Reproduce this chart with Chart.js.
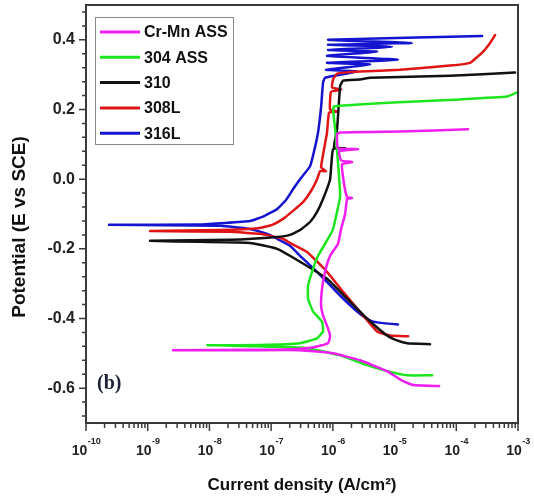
<!DOCTYPE html>
<html>
<head>
<meta charset="utf-8">
<script src="https://cdn.jsdelivr.net/npm/chart.js@4.4.0/dist/chart.umd.min.js"></script>
<style>
  body { margin: 0; background: #fff; }
  canvas { display: block; }
</style>
</head>
<body>
<canvas id="grafico" width="534" height="498"></canvas>
<script>
// series names and colours
const nomi = ["Cr-Mn ASS", "304 ASS", "310", "308L", "316L"];
const colori = ["#f01ef0", "#1ee61e", "#111111", "#e01414", "#1414d0"];

// current density (A/cm2) and potential (V vs SCE)
const crmnI = [5.26e-5, 2.0e-5, 1.37e-5, 7.55e-6, 2.76e-6, 1.007e-6, 2.94e-7, 4.55e-8, 2.57e-9,
  4.55e-8, 1.56e-7, 4.78e-7, 8.36e-7, 9.02e-7, 8.36e-7, 6.93e-7, 6.44e-7, 6.68e-7, 7.48e-7, 9.02e-7,
  1.21e-6, 1.36e-6, 1.58e-6, 1.70e-6, 2.05e-6, 1.70e-6, 1.52e-6, 1.41e-6, 2.05e-6, 1.36e-6, 1.26e-6,
  2.56e-6, 1.21e-6, 1.17e-6, 1.31e-6, 1.23e-5, 1.55e-4];
const crmnE = [-0.594, -0.591, -0.580, -0.551, -0.520, -0.500, -0.491, -0.491, -0.491,
  -0.490, -0.489, -0.483, -0.471, -0.451, -0.429, -0.391, -0.363, -0.314, -0.266, -0.220,
  -0.186, -0.143, -0.100, -0.057, -0.054, -0.051, -0.014, 0.043, 0.049, 0.054, 0.080,
  0.086, 0.089, 0.129, 0.134, 0.137, 0.143];

const ss304I = [4.06e-5, 1.6e-5, 7.55e-6, 3.58e-6, 1.31e-6, 5.55e-7, 2.94e-7, 6.6e-8, 9.14e-9,
  6.6e-8, 2.94e-7, 5.55e-7, 6.93e-7, 6.68e-7, 4.78e-7, 3.96e-7, 3.96e-7, 4.6e-7, 5.75e-7, 8.36e-7,
  1.007e-6, 1.31e-6, 1.21e-6, 1.09e-6, 1.007e-6, 1.04e-6, 1.31e-6, 9.46e-6, 1.15e-4, 6.65e-4, 9.66e-4];
const ss304E = [-0.563, -0.563, -0.551, -0.534, -0.506, -0.491, -0.483, -0.480, -0.477,
  -0.476, -0.471, -0.457, -0.437, -0.409, -0.380, -0.343, -0.306, -0.266, -0.220, -0.171,
  -0.143, -0.049, 0.049, 0.143, 0.200, 0.209, 0.211, 0.220, 0.229, 0.237, 0.249];

const ss310I = [3.76e-5, 1.6e-5, 1.1e-5, 7.55e-6, 3.58e-6, 1.7e-6, 8.05e-7, 2.94e-7, 1.25e-7, 4.55e-8, 7.05e-9, 1.09e-9,
  2.16e-8, 1.25e-7, 2.02e-7, 2.94e-7, 4.27e-7, 5.55e-7, 6.93e-7, 9.02e-7, 1.007e-6, 1.58e-6, 1.045e-6, 1.17e-6,
  1.31e-6, 1.46e-6, 2.76e-6, 4.01e-6, 7.93e-5, 8.97e-4];
const ss310E = [-0.474, -0.471, -0.463, -0.449, -0.400, -0.343, -0.286, -0.237, -0.200, -0.183, -0.180, -0.177,
  -0.174, -0.166, -0.160, -0.146, -0.123, -0.094, -0.057, 0.000, 0.086, 0.089, 0.091, 0.143,
  0.266, 0.283, 0.286, 0.291, 0.297, 0.306];

const ss308I = [1.66e-5, 8.45e-6, 5.2e-6, 3.08e-6, 1.46e-6, 8.05e-7, 3.82e-7, 2.02e-7, 1.56e-7, 6.6e-8, 2.16e-8, 1.09e-9,
  1.49e-8, 6.6e-8, 1.04e-7, 1.56e-7, 2.26e-7, 3.29e-7, 4.43e-7, 5.55e-7, 6.21e-7, 7.76e-7, 6.44e-7, 8.05e-7,
  8.68e-7, 1.21e-6, 9.02e-7, 9.35e-7, 1.36e-6, 9.7e-7, 1.007e-6, 1.17e-6, 2.76e-6, 1.23e-5, 7.93e-5, 1.67e-4,
  2.62e-4, 3.53e-4, 4.26e-4];
const ss308E = [-0.451, -0.449, -0.437, -0.391, -0.323, -0.266, -0.209, -0.183, -0.171, -0.157, -0.151, -0.149,
  -0.146, -0.140, -0.131, -0.114, -0.091, -0.066, -0.034, 0.000, 0.023, 0.023, 0.034, 0.134,
  0.191, 0.194, 0.200, 0.251, 0.257, 0.263, 0.286, 0.303, 0.309, 0.314, 0.326, 0.334,
  0.363, 0.391, 0.414];

const ss316I = [1.14e-5, 7.01e-6, 4.49e-6, 3.33e-6, 2.47e-6, 1.31e-6, 5.55e-7, 2.94e-7, 2.02e-7, 1.25e-7, 8.6e-8, 4.55e-8,
  1.49e-8, 2.36e-10, 7.05e-9, 4.55e-8, 7.68e-8, 1.25e-7, 1.74e-7, 2.26e-7, 2.94e-7, 4.27e-7, 4.96e-7, 5.75e-7,
  6.44e-7, 6.93e-7, 7.48e-7, 2.47e-6, 7.76e-7, 4.01e-6, 8.05e-7, 1.14e-5, 8.05e-7, 5.2e-6, 8.36e-7, 9.1e-6,
  8.36e-7, 1.92e-5, 8.36e-7, 2.62e-4];
const ss316E = [-0.417, -0.414, -0.409, -0.397, -0.380, -0.334, -0.266, -0.220, -0.191, -0.171, -0.157, -0.143,
  -0.134, -0.131, -0.130, -0.120, -0.106, -0.086, -0.060, -0.029, 0.000, 0.037, 0.080, 0.134,
  0.206, 0.277, 0.291, 0.309, 0.314, 0.329, 0.334, 0.343, 0.354, 0.366, 0.371, 0.380,
  0.386, 0.391, 0.400, 0.411];

// axis ticks
const yMajor = [-0.6, -0.4, -0.2, 0.0, 0.2, 0.4];
const xExp = [-10, -9, -8, -7, -6, -5, -4, -3];

const serie = [[crmnI, crmnE], [ss304I, ss304E], [ss310I, ss310E], [ss308I, ss308E], [ss316I, ss316E]];

const datasets = serie.map((s, k) => ({
  label: nomi[k],
  data: s[0].map((v, i) => ({ x: v, y: s[1][i] })),
  borderColor: colori[k],
  backgroundColor: colori[k],
  borderWidth: 2.5,
  borderJoinStyle: "round",
  borderCapStyle: "round",
  pointRadius: 0,
  tension: 0.12,
  fill: false
}));

const FONT = '"Liberation Sans", Arial, sans-serif';

// ticks, frame, legend box and labels drawn over the chart
const decorazioni = {
  id: "decorazioni",
  afterDraw(chart) {
    const ctx = chart.ctx;
    const a = chart.chartArea;
    const xs = chart.scales.x;
    const ys = chart.scales.y;
    ctx.save();

    ctx.strokeStyle = "#3a3a3a";
    ctx.lineWidth = 2;
    ctx.strokeRect(a.left, a.top, a.right - a.left, a.bottom - a.top);

    ctx.lineWidth = 1.5;
    ctx.beginPath();
    for (let k = -17; k <= 12; k++) {
      const py = ys.getPixelForValue(k * 0.04);
      ctx.moveTo(a.left, py);
      ctx.lineTo(a.left - (k % 5 === 0 ? 7 : 4), py);
    }
    xExp.forEach((e) => {
      for (let m = 1; m <= 9; m++) {
        if (e === -3 && m > 1) break;
        const px = xs.getPixelForValue(m * Math.pow(10, e));
        ctx.moveTo(px, a.bottom);
        ctx.lineTo(px, a.bottom + (m === 1 ? 8 : 5));
      }
    });
    ctx.stroke();

    // x tick labels 10^n
    ctx.fillStyle = "#222";
    ctx.textBaseline = "alphabetic";
    ctx.textAlign = "left";
    xExp.forEach((e) => {
      const px = xs.getPixelForValue(Math.pow(10, e));
      ctx.font = "bold 14px " + FONT;
      const w1 = ctx.measureText("10").width;
      ctx.font = "bold 9px " + FONT;
      const w2 = ctx.measureText(String(e)).width;
      const x0 = px - (w1 + w2) / 2;
      ctx.font = "bold 14px " + FONT;
      ctx.fillText("10", x0, a.bottom + 32);
      ctx.font = "bold 9px " + FONT;
      ctx.fillText(String(e), x0 + w1 + 0.5, a.bottom + 21);
    });

    // axis titles
    ctx.fillStyle = "#111";
    ctx.font = "bold 17px " + FONT;
    ctx.textAlign = "center";
    ctx.textBaseline = "middle";
    ctx.fillText("Current density (A/cm²)", (a.left + a.right) / 2, 485);
    ctx.save();
    ctx.translate(20, 227);
    ctx.rotate(-Math.PI / 2);
    ctx.font = "bold 19px " + FONT;
    ctx.fillText("Potential (E vs SCE)", 0, 0);
    ctx.restore();

    // legend
    const lx = a.left + 9, ly = a.top + 12;
    ctx.strokeStyle = "#8a8a8a";
    ctx.lineWidth = 1;
    ctx.strokeRect(lx + 0.5, ly + 0.5, 138, 127);
    ctx.textAlign = "left";
    ctx.font = "bold 16px " + FONT;
    chart.data.datasets.forEach((d, i) => {
      const ry = ly + 15 + i * 25.3;
      ctx.strokeStyle = d.borderColor;
      ctx.lineWidth = 3;
      ctx.beginPath();
      ctx.moveTo(lx + 5, ry);
      ctx.lineTo(lx + 45, ry);
      ctx.stroke();
      ctx.fillStyle = "#111";
      ctx.fillText(d.label, lx + 49, ry + 1);
    });

    // panel letter
    ctx.fillStyle = "#1e2336";
    ctx.font = 'bold 20px "Liberation Serif", "DejaVu Serif", serif';
    ctx.textBaseline = "alphabetic";
    ctx.fillText("(b)", 97, 389);

    ctx.restore();
  }
};

new Chart(document.getElementById("grafico"), {
  type: "line",
  data: { datasets: datasets },
  options: {
    responsive: false,
    animation: false,
    devicePixelRatio: 1,
    layout: { padding: { left: 0, right: 16, top: 5, bottom: 0 } },
    plugins: { legend: { display: false }, tooltip: { enabled: false } },
    scales: {
      x: {
        type: "logarithmic",
        min: 1e-10,
        max: 1e-3,
        grid: { display: false, drawTicks: false },
        border: { display: false },
        ticks: { display: false },
        afterBuildTicks: (s) => { s.ticks = xExp.map((e) => ({ value: Math.pow(10, e) })); },
        afterFit: (s) => { s.height = 75; s.paddingLeft = 0; s.paddingRight = 0; }
      },
      y: {
        min: -0.7,
        max: 0.5,
        grid: { display: false, drawTicks: false },
        border: { display: false },
        ticks: {
          padding: 11,
          color: "#222",
          font: { family: FONT, size: 16, weight: "bold" },
          callback: (v) => v.toFixed(1)
        },
        afterBuildTicks: (s) => { s.ticks = yMajor.map((v) => ({ value: v })); },
        afterFit: (s) => { s.width = 86; s.paddingTop = 0; s.paddingBottom = 0; }
      }
    }
  },
  plugins: [decorazioni]
});
</script>
</body>
</html>
